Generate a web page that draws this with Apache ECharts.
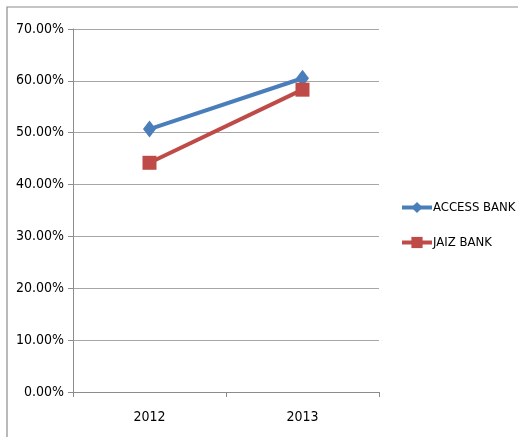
<!DOCTYPE html>
<html>
<head>
<meta charset="utf-8">
<script src="https://cdn.jsdelivr.net/npm/echarts@6/dist/echarts.min.js"></script>
<style>
  html, body { margin: 0; padding: 0; background: #fff; }
  #chart { width: 518px; height: 437px; }
</style>
</head>
<body>
<div id="chart"></div>
<script>
// Year categories and yearly percentages per bank
const years = ['2012', '2013'];
const accessBank = [50.7, 60.5];
const jaizBank = [44.2, 58.3];
const yTicks = [0, 10, 20, 30, 40, 50, 60, 70];

const FONT = '"DejaVu Sans Condensed", "Liberation Sans Narrow", sans-serif';
const chart = echarts.init(document.getElementById('chart'));

chart.setOption({
  animation: false,
  backgroundColor: '#ffffff',
  graphic: [{
    type: 'rect',
    shape: { x: 7, y: 7, width: 530, height: 450 },
    style: { fill: 'none', stroke: '#8c8c8c', lineWidth: 1.2 },
    silent: true
  }],
  grid: { left: 73, right: 139, top: 29, bottom: 45, containLabel: false },
  legend: {
    orient: 'vertical',
    left: 400,
    top: 201,
    padding: 0,
    itemGap: 22,
    itemWidth: 30,
    itemHeight: 14,
    lineStyle: { width: 4 },
    textStyle: { fontFamily: FONT, fontSize: 13, color: '#000', padding: [0, 0, 0, -4] },
    data: ['ACCESS BANK', 'JAIZ BANK']
  },
  xAxis: {
    type: 'category',
    data: years,
    boundaryGap: true,
    axisLine: { lineStyle: { color: '#8c8c8c', width: 1 } },
    axisTick: { show: true, length: 5, lineStyle: { color: '#8c8c8c' } },
    axisLabel: { fontFamily: FONT, fontSize: 14, color: '#000', margin: 18 }
  },
  yAxis: {
    type: 'value',
    min: yTicks[0],
    max: yTicks[yTicks.length - 1],
    interval: 10,
    axisLine: { show: true, lineStyle: { color: '#8c8c8c', width: 1 } },
    axisTick: { show: true, length: 5, lineStyle: { color: '#8c8c8c' } },
    splitLine: { show: true, lineStyle: { color: '#a6a6a6', width: 1 } },
    axisLabel: {
      fontFamily: FONT, fontSize: 14, color: '#000', margin: 9,
      formatter: v => v.toFixed(2) + '%'
    }
  },
  series: [
    {
      name: 'ACCESS BANK',
      type: 'line',
      data: accessBank,
      symbol: 'diamond',
      symbolSize: [13, 17],
      lineStyle: { color: '#4a7ebb', width: 4 },
      itemStyle: { color: '#4a7ebb' },
      z: 3
    },
    {
      name: 'JAIZ BANK',
      type: 'line',
      data: jaizBank,
      symbol: 'rect',
      symbolSize: 14,
      lineStyle: { color: '#be4b48', width: 4 },
      itemStyle: { color: '#be4b48' },
      z: 4
    }
  ]
});
</script>
</body>
</html>
